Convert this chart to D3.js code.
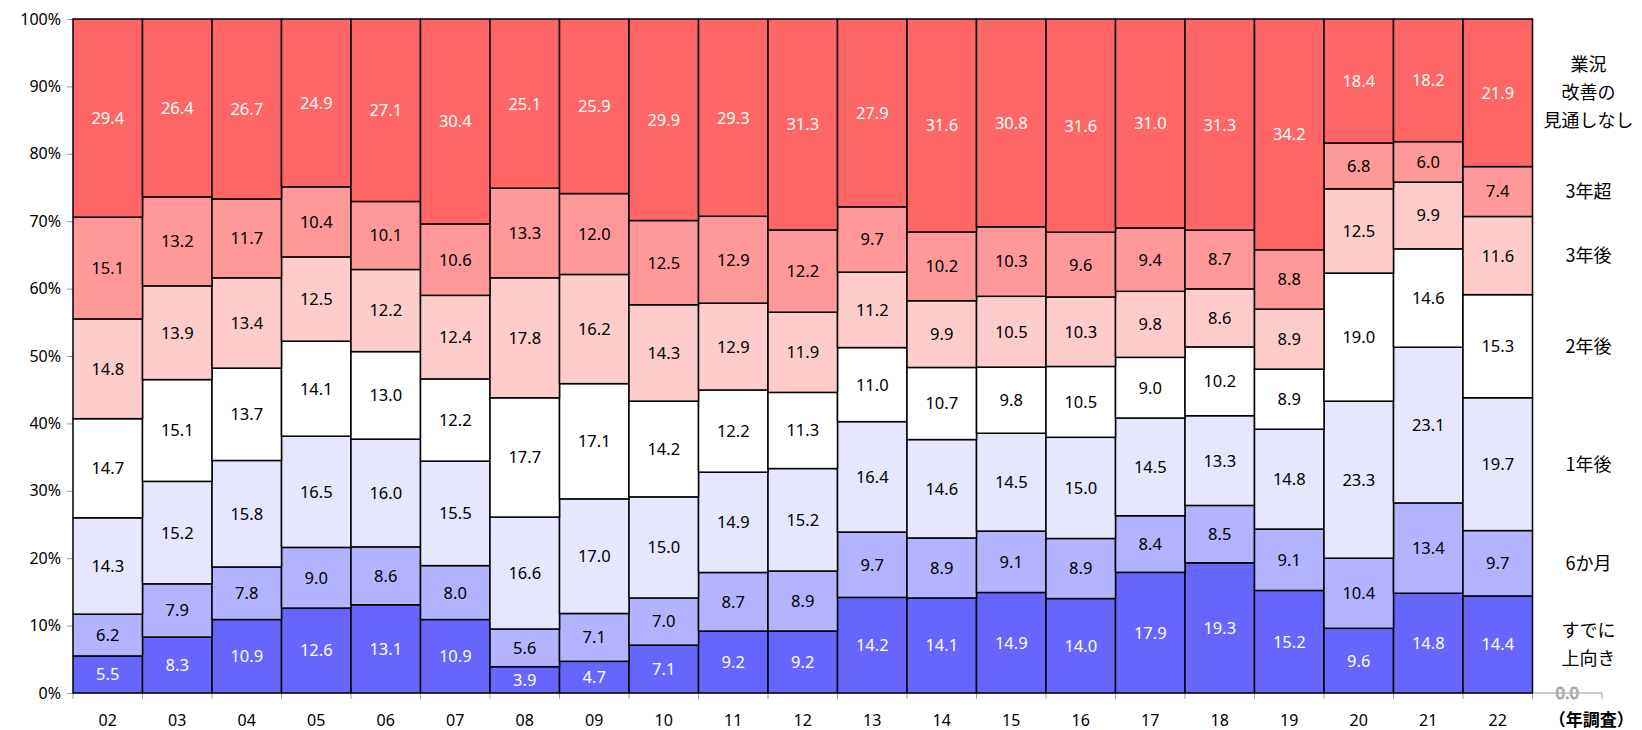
<!DOCTYPE html>
<html>
<head>
<meta charset="utf-8">
<script src="https://cdn.jsdelivr.net/npm/d3@7"></script>
<style>
  body { margin: 0; background: #fff; }
  svg text { font-family: "Noto Sans", "Noto Sans CJK JP", sans-serif; }
</style>
</head>
<body>
<div id="chart"></div>
<script>
// survey years (last slot is the unit label)
const years = ["02","03","04","05","06","07","08","09","10","11","12","13","14","15","16","17","18","19","20","21","22"];
const unitLabel = "（年調査）";

const seriesNames = ["すでに上向き", "6か月", "1年後", "2年後", "3年後", "3年超", "業況改善の見通しなし"];
const legendLines = [["すでに", "上向き"], ["6か月"], ["1年後"], ["2年後"], ["3年後"], ["3年超"], ["業況", "改善の", "見通しなし"]];
const colors = ["#6666ff", "#b3b3ff", "#e6e6ff", "#ffffff", "#ffcccc", "#ff9999", "#ff6666"];
const textColors = ["#fff", "#000", "#000", "#000", "#000", "#000", "#fff"];

const already = [5.5, 8.3, 10.9, 12.6, 13.1, 10.9, 3.9, 4.7, 7.1, 9.2, 9.2, 14.2, 14.1, 14.9, 14.0, 17.9, 19.3, 15.2, 9.6, 14.8, 14.4];
const sixMonths = [6.2, 7.9, 7.8, 9.0, 8.6, 8.0, 5.6, 7.1, 7.0, 8.7, 8.9, 9.7, 8.9, 9.1, 8.9, 8.4, 8.5, 9.1, 10.4, 13.4, 9.7];
const oneYear = [14.3, 15.2, 15.8, 16.5, 16.0, 15.5, 16.6, 17.0, 15.0, 14.9, 15.2, 16.4, 14.6, 14.5, 15.0, 14.5, 13.3, 14.8, 23.3, 23.1, 19.7];
const twoYears = [14.7, 15.1, 13.7, 14.1, 13.0, 12.2, 17.7, 17.1, 14.2, 12.2, 11.3, 11.0, 10.7, 9.8, 10.5, 9.0, 10.2, 8.9, 19.0, 14.6, 15.3];
const threeYears = [14.8, 13.9, 13.4, 12.5, 12.2, 12.4, 17.8, 16.2, 14.3, 12.9, 11.9, 11.2, 9.9, 10.5, 10.3, 9.8, 8.6, 8.9, 12.5, 9.9, 11.6];
const overThree = [15.1, 13.2, 11.7, 10.4, 10.1, 10.6, 13.3, 12.0, 12.5, 12.9, 12.2, 9.7, 10.2, 10.3, 9.6, 9.4, 8.7, 8.8, 6.8, 6.0, 7.4];
const noOutlook = [29.4, 26.4, 26.7, 24.9, 27.1, 30.4, 25.1, 25.9, 29.9, 29.3, 31.3, 27.9, 31.6, 30.8, 31.6, 31.0, 31.3, 34.2, 18.4, 18.2, 21.9];

const yTicks = [0, 0.1, 0.2, 0.3, 0.4, 0.5, 0.6, 0.7, 0.8, 0.9, 1];

const seriesValues = [already, sixMonths, oneYear, twoYears, threeYears, overThree, noOutlook];

const width = 1642, height = 730;
const margin = {left: 73, right: 40, top: 19, bottom: 37};

const svg = d3.select("#chart").append("svg")
    .attr("width", width)
    .attr("height", height);

const x = d3.scaleBand()
    .domain(years.concat([unitLabel]))
    .range([margin.left, width - margin.right])
    .paddingInner(0)
    .paddingOuter(0);

const y = d3.scaleLinear()
    .domain([0, 1])
    .range([height - margin.bottom, margin.top]);

// table for d3.stack (shares of 100%)
const table = years.map((yr, i) => {
    const row = {year: yr};
    seriesNames.forEach((s, k) => row[s] = seriesValues[k][i]);
    return row;
});
const stacked = d3.stack().keys(seriesNames).offset(d3.stackOffsetExpand)(table);

// Axes
const yAxis = svg.append("g")
    .attr("transform", `translate(${margin.left},0)`)
    .call(d3.axisLeft(y).tickValues(yTicks).tickFormat(d3.format(".0%")).tickSizeOuter(0).tickSize(6));
yAxis.select(".domain").attr("stroke", "#999");
yAxis.selectAll(".tick line").attr("stroke", "#999");
yAxis.selectAll(".tick text").attr("font-size", 16).attr("fill", "#000").attr("dx", "-3");

const xAxis = svg.append("g")
    .attr("transform", `translate(0,${height - margin.bottom})`);
xAxis.append("line")
    .attr("x1", x.range()[0]).attr("x2", x.range()[1])
    .attr("stroke", "#999");
const edges = x.domain().map(d => x(d)).concat([x.range()[1]]);
xAxis.selectAll(".tk").data(edges).enter().append("line")
    .attr("x1", d => d).attr("x2", d => d)
    .attr("y1", 0).attr("y2", 6)
    .attr("stroke", "#999");
xAxis.selectAll(".lbl").data(x.domain()).enter().append("text")
    .attr("x", d => x(d) + x.bandwidth() / 2 + (d === unitLabel ? 24 : 0))
    .attr("y", 33)
    .attr("text-anchor", "middle")
    .attr("font-size", d => d === unitLabel ? 17 : 16)
    .attr("font-weight", d => d === unitLabel ? "bold" : "normal")
    .style("font-family", d => d === unitLabel ? '"Noto Sans CJK JP", sans-serif' : null)
    .text(d => d);

// Bars
const layers = svg.selectAll(".layer")
    .data(stacked)
    .enter().append("g")
    .attr("class", "layer");

layers.selectAll("rect")
    .data(d => d.map(p => ({p: p, key: d.key, idx: d.index})))
    .enter().append("rect")
    .attr("x", d => x(d.p.data.year))
    .attr("width", x.bandwidth())
    .attr("y", d => y(d.p[1]))
    .attr("height", d => y(d.p[0]) - y(d.p[1]))
    .attr("fill", d => colors[d.idx])
    .attr("stroke", "#000")
    .attr("stroke-width", 1.5);

layers.selectAll("text")
    .data(d => d.map(p => ({p: p, key: d.key, idx: d.index})))
    .enter().append("text")
    .attr("x", d => x(d.p.data.year) + x.bandwidth() / 2)
    .attr("y", d => (y(d.p[0]) + y(d.p[1])) / 2)
    .attr("dy", "0.36em")
    .attr("text-anchor", "middle")
    .attr("font-size", 16.5)
    .attr("fill", d => textColors[d.idx])
    .text(d => d3.format(".1f")(d.p.data[d.key]));

// zero label on the empty last slot
svg.append("text")
    .attr("x", x(unitLabel) + x.bandwidth() / 2)
    .attr("y", y(0))
    .attr("dy", "0.36em")
    .attr("text-anchor", "middle")
    .attr("font-size", 16.5)
    .attr("fill", "#fff")
    .attr("stroke", "#999")
    .attr("stroke-width", 1)
    .text(d3.format(".1f")(0));

// Series names beside the last bar
const last = years[years.length - 1];
const legend = svg.append("g");
stacked.forEach((layer, k) => {
    const seg = layer[layer.length - 1];
    const cy = (y(seg[0]) + y(seg[1])) / 2;
    const lines = legendLines[k];
    const lh = 28;
    lines.forEach((ln, j) => {
        legend.append("text")
            .attr("x", x(last) + x.bandwidth() + 56)
            .attr("y", cy + (j - (lines.length - 1) / 2) * lh)
            .attr("dy", "0.36em")
            .attr("text-anchor", "middle")
            .attr("font-size", 18)
            .style("font-family", '"Noto Sans CJK JP", sans-serif')
            .text(ln);
    });
});
</script>
</body>
</html>
